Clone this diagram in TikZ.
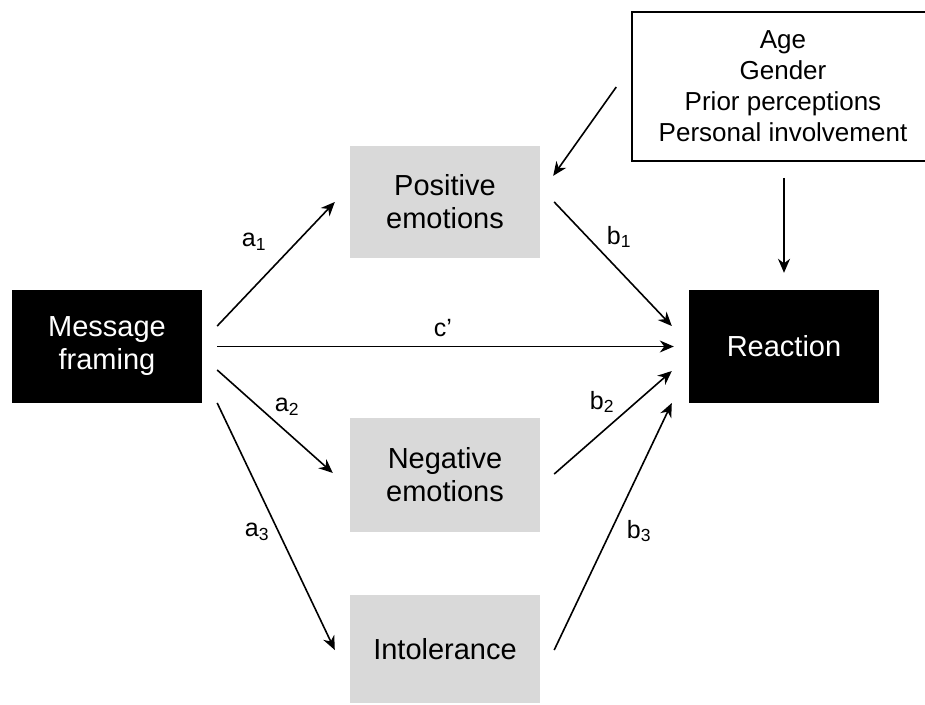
\documentclass[tikz,border=0pt]{standalone}
\usepackage{fontspec}
\setmainfont{Liberation Sans}
\usetikzlibrary{arrows.meta,calc}
\tikzset{
  box/.style={rectangle, inner sep=0pt, align=center, minimum width=190pt,
    font=\fontsize{29}{33}\selectfont},
  darkbox/.style={box, fill=black, text=white},
  greybox/.style={box, fill=grey1, text=black},
  covbox/.style={rectangle, draw=black, line width=1.5pt, inner sep=0pt, align=center,
    minimum width=302pt, minimum height=149pt, font=\fontsize{26}{31}\selectfont},
  conn/.style={line width=1.6pt, -{Stealth[length=14pt,width=12pt,inset=4.5pt]}},
  lbl/.style={inner sep=0pt, font=\fontsize{25}{28}\selectfont}
}
\definecolor{grey1}{HTML}{D9D9D9}
\begin{document}
\begin{tikzpicture}[x=1pt,y=-1pt]
\clip (0,0) rectangle (925,704);
\fill[white] (0,0) rectangle (925,704);
% nodes
\node[darkbox, minimum height=113pt] (msg) at (107,346.5) {Message\\framing};
\node[darkbox, minimum height=113pt] (rea) at (784,346.5) {Reaction};
\node[greybox, minimum height=112pt] (pos) at (445,202) {Positive\\emotions};
\node[greybox, minimum height=114pt] (neg) at (445,475) {Negative\\emotions};
\node[greybox, minimum height=108pt] (int) at (445,649) {Intolerance};
\node[covbox, fill=white] (cov) at (783,86.5) {Age\\Gender\\Prior perceptions\\Personal involvement};
% connectors
\draw[conn] ($(msg.east)+(15,-20.5)$) -- ($(pos.west)+(-15,0)$);
\draw[conn] ($(msg.east)+(15,0)$) -- ($(rea.west)+(-15,0)$);
\draw[conn] ($(msg.east)+(15,23.5)$) -- ($(neg.west)+(-17,-2)$);
\draw[conn] ($(msg.east)+(15,56.5)$) -- ($(int.west)+(-15,1)$);
\draw[conn] ($(pos.east)+(14,0)$) -- ($(rea.west)+(-17,-20.5)$);
\draw[conn] ($(neg.east)+(14,-1)$) -- ($(rea.west)+(-17,24.5)$);
\draw[conn] ($(int.east)+(14,1)$) -- ($(rea.west)+(-17,56.5)$);
\draw[conn] ($(cov.west)+(-15,0.5)$) -- ($(pos.north east)+(13,30)$);
\draw[conn] ($(cov.south)+(1,16)$) -- ($(rea.north)+(0,-17)$);
% labels
\node[lbl] (la1) at (254,242) {a\textsubscript{1}};
\node[lbl] (lc) at (443,328) {c’};
\node[lbl] (la2) at (287,407) {a\textsubscript{2}};
\node[lbl] (la3) at (257,532) {a\textsubscript{3}};
\node[lbl] (lb1) at (619,237) {b\textsubscript{1}};
\node[lbl] (lb2) at (602,402) {b\textsubscript{2}};
\node[lbl] (lb3) at (639,531) {b\textsubscript{3}};
\end{tikzpicture}
\end{document}
